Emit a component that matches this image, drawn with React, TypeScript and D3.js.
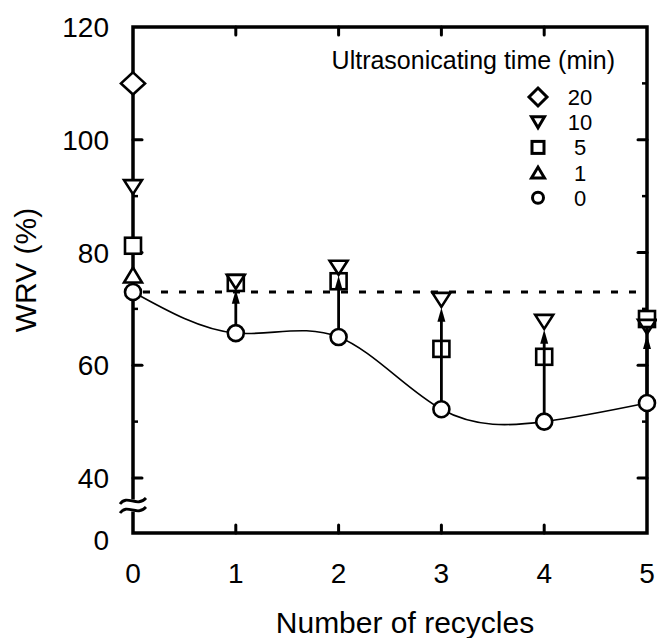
import React from "react";
import * as d3 from "d3";

const recycles = [0, 1, 2, 3, 4, 5];
const wrv0min = [73.0, 65.7, 65.0, 52.2, 50.0, 53.3];
const wrv5min = [81.2, 74.6, 74.9, 62.9, 61.5, 68.2];
const wrv10min = [91.6, 74.8, 77.3, 71.6, 67.7, 66.8];
const wrv1min = [76.0];
const wrv20min = [110.0];
const referenceLevel = 73.0;

const xTicks = [0, 1, 2, 3, 4, 5];
const yTicks = [0, 40, 60, 80, 100, 120];
const yMinorTicks = [50, 70, 90, 110];
const legendLabels = ["20", "10", "5", "1", "0"];
const legendTitle = "Ultrasonicating time (min)";
const xTitle = "Number of recycles";
const yTitle = "WRV (%)";

const W = 657;
const H = 638;
const FONT = "'Liberation Sans', Arial, Helvetica, sans-serif";

const x = d3.scaleLinear().domain([0, 5]).range([133, 647]);
const y = d3.scaleLinear().domain([0, 40, 120]).range([533, 478, 27]);

const diamondPath = (cx: number, cy: number, hw: number, hh: number) =>
  `M${cx},${cy - hh}L${cx + hw},${cy}L${cx},${cy + hh}L${cx - hw},${cy}Z`;
const triDownPath = (cx: number, cy: number, w: number, h: number) =>
  `M${cx - w / 2},${cy - h / 2}L${cx + w / 2},${cy - h / 2}L${cx},${cy + h / 2}Z`;
const triUpPath = (cx: number, cy: number, w: number, h: number) =>
  `M${cx - w / 2},${cy + h / 2}L${cx + w / 2},${cy + h / 2}L${cx},${cy - h / 2}Z`;

export default function App() {
  const x0 = x(0);
  const x5 = x(5);
  const yTop = y(120);
  const yBot = y(0);
  const yBreak = (y(0) + y(40)) / 2;

  const curve = d3
    .line<number>()
    .x((_, i) => x(recycles[i]))
    .y((d) => y(d))
    .curve(d3.curveNatural)(wrv0min) as string;

  const axisW = 3.5;
  const mk = 2.6;

  return (
    <svg
      width={W}
      height={H}
      style={{ position: "absolute", left: 0, top: 0, background: "#fff" }}
      fontFamily={FONT}
    >
      <rect x={0} y={0} width={W} height={H} fill="#fff" />

      <path d={curve} fill="none" stroke="#000" strokeWidth={1.6} />

      <line
        x1={x0 + 10}
        x2={x5}
        y1={y(referenceLevel)}
        y2={y(referenceLevel)}
        stroke="#000"
        strokeWidth={3}
        strokeDasharray="7 11"
      />

      <path
        d={`M${x0},${yBot}L${x0},${yTop}L${x5},${yTop}L${x5},${yBot}Z`}
        fill="none"
        stroke="#000"
        strokeWidth={axisW}
        strokeLinejoin="miter"
      />

      <rect x={x0 - 4} y={yBreak - 6} width={8} height={12} fill="#fff" />
      {[-4.5, 4.5].map((o, i) => (
        <path
          key={i}
          d={`M${x0 - 13},${yBreak + o + 3} C${x0 - 6},${yBreak + o - 7} ${x0 + 4},${yBreak + o + 7} ${x0 + 13},${yBreak + o - 3}`}
          fill="none"
          stroke="#000"
          strokeWidth={2.8}
        />
      ))}

      {xTicks.slice(1, -1).map((t) => (
        <g key={"xt" + t}>
          <line x1={x(t)} x2={x(t)} y1={yBot} y2={yBot - 8} stroke="#000" strokeWidth={3} strokeLinecap="round" />
          <line x1={x(t)} x2={x(t)} y1={yTop} y2={yTop + 8} stroke="#000" strokeWidth={3} strokeLinecap="round" />
        </g>
      ))}

      {yTicks.slice(1, -1).map((t) => (
        <g key={"yt" + t}>
          <line x1={x0} x2={x0 + 9} y1={y(t)} y2={y(t)} stroke="#000" strokeWidth={3} strokeLinecap="round" />
          <line x1={x5} x2={x5 - 9} y1={y(t)} y2={y(t)} stroke="#000" strokeWidth={3} strokeLinecap="round" />
        </g>
      ))}
      {yMinorTicks.map((t) => (
        <g key={"ym" + t}>
          <line x1={x0} x2={x0 + 5} y1={y(t)} y2={y(t)} stroke="#000" strokeWidth={2.5} />
          <line x1={x5} x2={x5 - 5} y1={y(t)} y2={y(t)} stroke="#000" strokeWidth={2.5} />
        </g>
      ))}

      {yTicks.map((t) => (
        <text
          key={"yl" + t}
          x={109}
          y={y(t) + (t === 0 ? 17 : 10)}
          textAnchor="end"
          fontSize={28}
          fill="#000"
        >
          {t}
        </text>
      ))}
      {xTicks.map((t) => (
        <text key={"xl" + t} x={x(t)} y={583} textAnchor="middle" fontSize={28} fill="#000">
          {t}
        </text>
      ))}

      <text x={405} y={633} textAnchor="middle" fontSize={30} fill="#000">
        {xTitle}
      </text>
      <text
        transform={`translate(36,${270}) rotate(-90)`}
        textAnchor="middle"
        fontSize={30}
        fill="#000"
      >
        {yTitle}
      </text>

      {wrv0min.map((v, i) => (
        <circle key={"c" + i} cx={x(recycles[i])} cy={y(v)} r={8} fill="#fff" stroke="#000" strokeWidth={mk} />
      ))}
      {wrv1min.map((v, i) => (
        <path key={"tu" + i} d={triUpPath(x(recycles[i]), y(v), 18, 15)} fill="#fff" stroke="#000" strokeWidth={mk} strokeLinejoin="miter" />
      ))}
      {wrv5min.map((v, i) => (
        <rect key={"s" + i} x={x(recycles[i]) - 8} y={y(v) - 8} width={16} height={16} fill="#fff" stroke="#000" strokeWidth={mk} />
      ))}
      {wrv10min.map((v, i) => (
        <path key={"td" + i} d={triDownPath(x(recycles[i]), y(v), 18, 14)} fill={i === 0 ? "#fff" : "none"} stroke="#000" strokeWidth={mk} strokeLinejoin="miter" />
      ))}
      {wrv20min.map((v, i) => (
        <path key={"d" + i} d={diamondPath(x(recycles[i]), y(v), 12, 11)} fill="#fff" stroke="#000" strokeWidth={mk} strokeLinejoin="miter" />
      ))}

      {recycles.slice(1).map((r, k) => {
        const i = k + 1;
        const cx = x(r);
        const y1 = y(wrv0min[i]) - 8;
        const tip = y(wrv10min[i]) + 8;
        return (
          <g key={"a" + i}>
            <line x1={cx} x2={cx} y1={y1} y2={tip + 10} stroke="#000" strokeWidth={2.8} />
            <path d={`M${cx},${tip}L${cx + 4},${tip + 14}L${cx - 4},${tip + 14}Z`} fill="#000" />
          </g>
        );
      })}

      <text x={615} y={69} textAnchor="end" fontSize={25} fill="#000">
        {legendTitle}
      </text>
      {legendLabels.map((lab, i) => {
        const cy = 97 + i * 25.2;
        const cx = 538;
        let sym;
        if (i === 0) sym = <path d={diamondPath(cx, cy, 9, 9)} fill="none" stroke="#000" strokeWidth={3} />;
        else if (i === 1) sym = <path d={triDownPath(cx, cy, 13, 11)} fill="none" stroke="#000" strokeWidth={3} />;
        else if (i === 2) sym = <rect x={cx - 6} y={cy - 6} width={12} height={12} fill="none" stroke="#000" strokeWidth={3} />;
        else if (i === 3) sym = <path d={triUpPath(cx, cy, 13, 11)} fill="none" stroke="#000" strokeWidth={3} />;
        else sym = <circle cx={cx} cy={cy} r={5.5} fill="none" stroke="#000" strokeWidth={3} />;
        return (
          <g key={"lg" + i}>
            {sym}
            <text x={580} y={cy + 8} textAnchor="middle" fontSize={22} fill="#000">
              {lab}
            </text>
          </g>
        );
      })}
    </svg>
  );
}
